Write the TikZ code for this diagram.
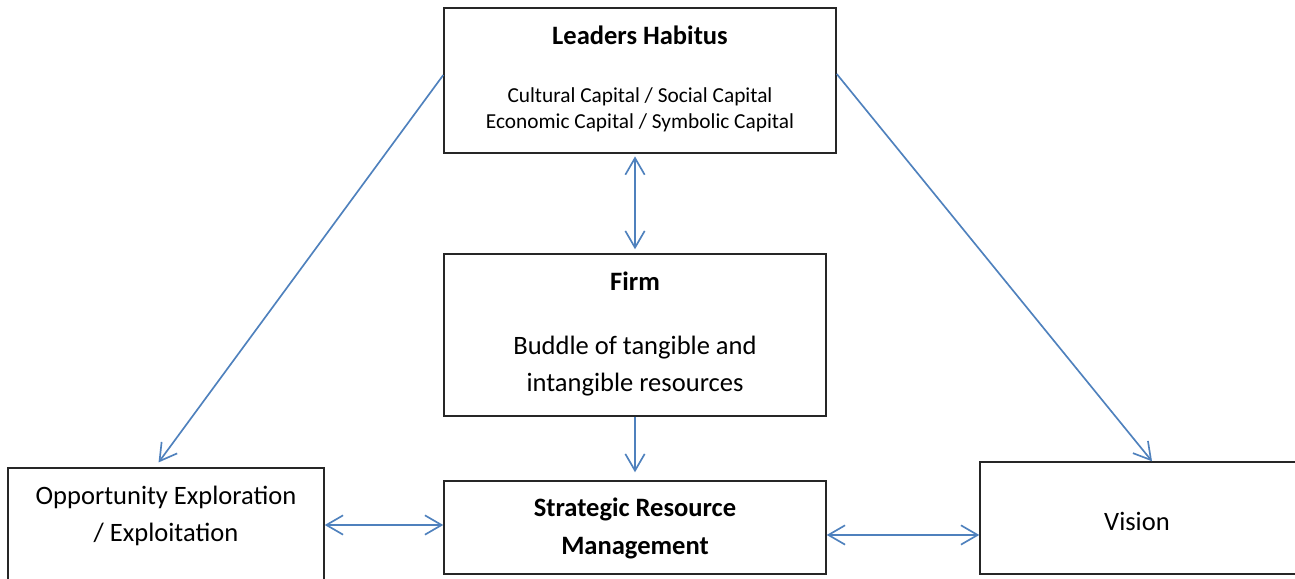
\documentclass[tikz,border=0pt]{standalone}
\usepackage{fontspec}
\setmainfont{Carlito}
\usetikzlibrary{arrows.meta}
\usetikzlibrary{calc}
\definecolor{linkblue}{RGB}{79,129,189}
\newcommand{\bigtxt}{\fontsize{19.9}{27.75}\selectfont}
\newcommand{\smalltxt}{\fontsize{16}{19.5}\selectfont}

\tikzset{
	box/.style={draw=black!85, line width=1.1pt, inner sep=0pt, fill=white},
	link/.style={draw=linkblue, line width=1.25pt},
	label/.style={anchor=base, inner sep=0pt},
	>={Straight Barb[length=12.5pt,width=14.5pt]}
}

\begin{document}
\begin{tikzpicture}[x=0.75pt,y=0.75pt,yscale=-1,xscale=1]
		\useasboundingbox (0,0) rectangle (1295,578); %set diagram size to 1295 x 578

		%Boxes
		\node [box, minimum width=294pt, minimum height=108.75pt] (lead) at (640,80.5) {};
		\node [box, minimum width=286.5pt, minimum height=121.5pt] (firm) at (635,335) {};
		\node [box, minimum width=286.5pt, minimum height=69.75pt] (srm) at (635,527.5) {};
		\node [box, minimum width=237pt, minimum height=85.5pt] (opp) at (166,525) {};
		\node [box, minimum width=258pt, minimum height=84pt] (vis) at (1152,518) {};

		% Text Node
		\node [label, font=\bigtxt\bfseries] (leadtitle) at (640,44) {Leaders Habitus};
		% Text Node
		\node [label, font=\smalltxt] (leadcap1) at (640,102.3) {Cultural Capital / Social Capital};
		% Text Node
		\node [label, font=\smalltxt] (leadcap2) at (640,128.3) {Economic Capital / Symbolic Capital};
		% Text Node
		\node [label, font=\bigtxt\bfseries] (firmtitle) at (635,290) {Firm};
		% Text Node
		\node [label, font=\bigtxt] (firmres1) at (635,354) {Buddle of tangible and};
		% Text Node
		\node [label, font=\bigtxt] (firmres2) at (635,391) {intangible resources};
		% Text Node
		\node [label, font=\bigtxt\bfseries] (srm1) at (635,516) {Strategic Resource};
		% Text Node
		\node [label, font=\bigtxt\bfseries] (srm2) at (635,554) {Management};
		% Text Node
		\node [label, font=\bigtxt] (opp1) at (166,504) {Opportunity Exploration};
		% Text Node
		\node [label, font=\bigtxt] (opp2) at (166,541) {/ Exploitation};
		% Text Node
		\node [label, font=\bigtxt] (vistxt) at (1137,530) {Vision};

		%Connectors (yshift follows yscale=-1, so + is down)
		\draw [link, <->, shorten <=2pt, shorten >=3pt] (lead.south -| firm.north) -- (firm.north);
		\draw [link, ->, shorten >=6pt] (firm.south) -- (srm.north);
		\draw [link, ->, shorten >=4.5pt] ([yshift=-4.1pt]lead.west) -- ([xshift=-8.25pt]opp.north);
		\draw [link, ->] ([yshift=-4.9pt]lead.east) -- (vis.north);
		\draw [link, <->] (opp.east) -- (opp.east -| srm.west);
		\draw [link, <->] ([yshift=5.6pt]srm.east) -- ([yshift=5.6pt]srm.east -| vis.west);
\end{tikzpicture}
\end{document}
